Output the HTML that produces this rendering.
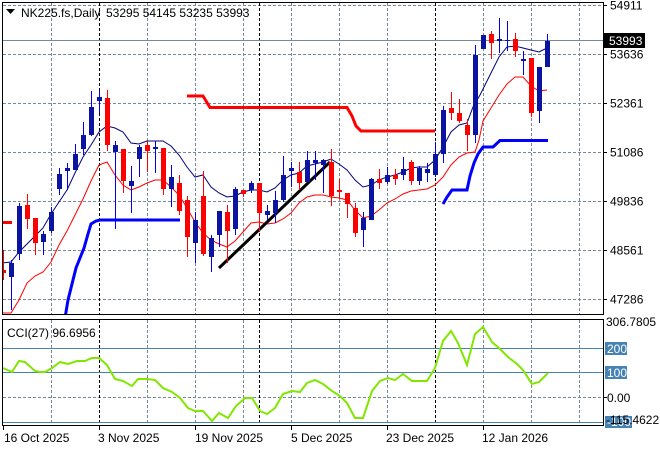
<!DOCTYPE html>
<html><head><meta charset="utf-8"><style>
html,body{margin:0;padding:0;background:#fff;}
svg{display:block;}
text{font-family:"Liberation Sans",sans-serif;font-size:12px;}
</style></head><body>
<svg width="660" height="450" viewBox="0 0 660 450" xmlns="http://www.w3.org/2000/svg">
<rect width="660" height="450" fill="#fff"/>
<g stroke="#778899" stroke-width="1" stroke-dasharray="3,2" fill="none">
<path d="M3 5.5H603M3 54.5H603M3 103.5H603M3 152.5H603M3 201.5H603M3 250.5H603M3 299.5H603M3 397.5H603"/>
<path d="M51.5 3V314M147.5 3V314M195.5 3V314M243.5 3V314M291.5 3V314M339.5 3V314M387.5 3V314M483.5 3V314M531.5 3V314M579.5 3V314"/>
<path d="M51.5 320V425M147.5 320V425M195.5 320V425M243.5 320V425M291.5 320V425M339.5 320V425M387.5 320V425M483.5 320V425M531.5 320V425M579.5 320V425"/>
</g>
<path d="M99.5 3V314M259.5 3V314M435.5 3V314M99.5 320V425M259.5 320V425M435.5 320V425" stroke="#000" stroke-width="1" stroke-dasharray="3,2" fill="none"/>
<line x1="3" y1="40.5" x2="603" y2="40.5" stroke="#778899" stroke-width="1"/>
<polyline fill="none" stroke="#ff0000" stroke-width="1" points="2,313 11,313 19,300 27,283 35,276 43,272 51,262 59,245 67,231 75,215 83,199 91,181 99,165 107,162 115,175 123,185 131,190 139,187 147,183 155,180 163,180 171,187 179,195 187,208 195,222 203,233 211,240 219,244 227,247 235,241 243,232 251,223 259,222 267,224 275,223 283,219 291,213 299,203 307,197 315,195 323,195 331,197 339,198 347,200 355,210 363,218 371,216 379,210 387,203 395,199 403,194 411,191 419,190 427,189 435,185 443,177 451,165 459,157 467,153 475,152 479,140 483,121 491,108 499,95 507,84 515,77 523,77 531,86 539,91 547,90"/>
<polyline fill="none" stroke="#000080" stroke-width="1" points="2,263 11,262 19,252 27,244 35,236 43,228 51,214 59,202 67,190 75,173 83,157 91,145 99,132 107,126 115,128 123,132 131,143 139,144 147,141 155,141 163,141 171,146 179,155 187,167 195,177 203,175 211,187 219,193 227,197 235,196 243,192 251,190 259,190 267,192 275,188 283,180 291,175 299,173 307,166 315,164 323,162 331,159 339,164 347,170 355,180 363,187 371,185 379,180 387,177 395,175 403,172 411,168 419,167 427,167 435,160 443,147 451,132 459,125 467,123 473,107 480,95 490,75 499,57 507,47 515,46 523,48 531,50 539,52 547,48"/>
<polyline fill="none" stroke="#ff0000" stroke-width="3" points="3,222.5 12,222.5"/>
<polyline fill="none" stroke="#ff0000" stroke-width="3" points="187,96 203,96 210,107.5 347,107.5 352,116 356,126 361,131 435,131"/>
<polyline fill="none" stroke="#0000ff" stroke-width="3" points="65,318 68,300 72,284 76,268 80,258 84,248 88,234 91,224 96,221 100,220 180,220"/>
<polyline fill="none" stroke="#0000ff" stroke-width="3" points="443,204 447,197 452,190 467,190 470,176 474,163 478,154 483,147 493,147 500,140.5 548,140.5"/>
<line x1="219" y1="268" x2="330" y2="162" stroke="#000" stroke-width="3"/>
<path stroke="#ff0000" stroke-width="1" fill="none" d="M3.5 250v30M27.5 194v35M35.5 218v37M107.5 90v61M123.5 149v44M147.5 141v31M163.5 148v47M179.5 175v40M187.5 196v61M203.5 171v85M227.5 205v58M243.5 190v7M259.5 183v49M299.5 162v28M331.5 149v57M339.5 179v20M347.5 193v25M355.5 203v34M379.5 169v20M395.5 169v16M411.5 160v25M451.5 92v28M459.5 99v24M467.5 119v32M491.5 31v28M515.5 33v24M531.5 58v59"/>
<path fill="#ff0000" d="M1 270h5v3h-5zM25 205h5v14h-5zM33 218h5v25h-5zM105 98h5v47h-5zM121 149h5v32h-5zM145 145h5v6h-5zM161 148h5v41h-5zM177 183h5v28h-5zM185 200h5v37h-5zM201 196h5v58h-5zM225 212h5v19h-5zM241 190h5v4h-5zM257 183h5v30h-5zM297 172h5v11h-5zM329 162h5v34h-5zM337 190h5v2h-5zM345 193h5v11h-5zM353 208h5v25h-5zM377 179h5v4h-5zM393 175h5v4h-5zM409 162h5v19h-5zM449 108h5v5h-5zM457 113h5v8h-5zM465 125h5v10h-5zM489 34h5v9h-5zM513 39h5v12h-5zM529 58h5v55h-5z"/>
<path stroke="#0000ee" stroke-width="1" fill="none" d="M11.5 260v50M19.5 203v57M43.5 231v24M51.5 207v26M59.5 168v27M67.5 163v27M75.5 144v26M83.5 122v33M91.5 91v45M99.5 90v23M115.5 141v88M131.5 166v47M139.5 145v32M155.5 141v32M171.5 165v42M195.5 212v51M211.5 235v37M219.5 211v36M235.5 187v48M251.5 181v12M267.5 205v15M275.5 191v32M283.5 156v46M291.5 162v25M307.5 151v31M315.5 151v29M323.5 159v34M363.5 212v35M371.5 178v42M387.5 167v17M403.5 157v23M419.5 166v19M427.5 163v19M435.5 142v35M443.5 106v57M475.5 45v98M483.5 35v14M499.5 18v35M507.5 21v30M523.5 51v24M539.5 67v56M547.5 34v33"/>
<path fill="#0a14a0" d="M9 263h5v14h-5zM17 206h5v48h-5zM41 234h5v8h-5zM49 212h5v19h-5zM57 174h5v15h-5zM65 168h5v3h-5zM73 154h5v16h-5zM81 135h5v14h-5zM89 107h5v28h-5zM97 97h5v4h-5zM113 145h5v7h-5zM129 181h5v5h-5zM137 147h5v12h-5zM153 147h5v2h-5zM169 177h5v12h-5zM193 220h5v23h-5zM209 238h5v19h-5zM217 211h5v24h-5zM233 189h5v40h-5zM249 183h5v7h-5zM265 211h5v4h-5zM273 200h5v13h-5zM281 175h5v25h-5zM289 168h5v3h-5zM305 160h5v22h-5zM313 160h5v3h-5zM321 160h5v5h-5zM361 218h5v12h-5zM369 179h5v41h-5zM385 175h5v7h-5zM401 169h5v6h-5zM417 168h5v13h-5zM425 169h5v4h-5zM433 154h5v21h-5zM441 110h5v44h-5zM473 55h5v80h-5zM481 35h5v14h-5zM497 39h5v2h-5zM505 40h5v1h-5zM521 59h5v2h-5zM537 67h5v44h-5zM545 41h5v26h-5z"/>
<path d="M3 348.5H603M3 372.5H603M3 422.5H603" stroke="#4682b4" stroke-width="1"/>
<polyline fill="none" stroke="#80e800" stroke-width="2" points="3,368 12,372 19,361 25,362 35,371 40,372 45,372 52,368 60,362 68,364 77,361 85,361 92,358 99,358 107,365 115,379 123,381 132,386 138,379 147,379 155,380 163,388 172,392 180,398 188,408 195,411 203,411 212,421 219,413 228,418 236,406 245,398 252,398 260,411 267,414 275,408 283,394 292,391 300,392 307,383 315,380 323,384 332,391 340,396 347,403 355,418 363,418 372,391 380,381 388,378 395,380 403,374 412,381 420,381 427,381 435,368 443,341 451,331 458,343 467,365 475,334 483,327 492,342 500,349 508,357 517,364 523,370 532,384 539,382 548,373"/>
<rect x="0" y="315" width="604" height="4" fill="#fff"/>
<rect x="0" y="0" width="2" height="430" fill="#fff"/>
<rect x="2.5" y="2.5" width="601" height="312" fill="none" stroke="#000" stroke-width="1"/>
<rect x="2.5" y="319.5" width="601" height="106" fill="none" stroke="#000" stroke-width="1"/>
<path d="M603 5.5H607M603 54.5H607M603 103.5H607M603 152.5H607M603 201.5H607M603 250.5H607M603 299.5H607M603 397.5H607M3.5 426V430M99.5 426V430M195.5 426V430M291.5 426V430M387.5 426V430M483.5 426V430" stroke="#000" stroke-width="1"/>
<text x="610" y="9.5">54911</text>
<text x="610" y="58.5">53636</text>
<text x="610" y="107.5">52361</text>
<text x="610" y="156.5">51086</text>
<text x="610" y="205.5">49836</text>
<text x="610" y="254.5">48561</text>
<text x="610" y="303.5">47286</text>
<rect x="604" y="33" width="41" height="15" fill="#000"/>
<text x="609" y="45" fill="#fff">53993</text>
<text x="606" y="326">306.7805</text>
<rect x="605" y="342" width="22" height="13" fill="#4682b4"/>
<text x="607" y="353" fill="#fff">200</text>
<rect x="605" y="366" width="22" height="13" fill="#4682b4"/>
<text x="607" y="377" fill="#fff">100</text>
<text x="607" y="402">0.00</text>
<rect x="605" y="416" width="27" height="12" fill="#4682b4"/>
<text x="607" y="426" fill="#fff">-100</text>
<text x="606" y="424">-115.4622</text>
<text x="4" y="442">16 Oct 2025</text>
<text x="98" y="442">3 Nov 2025</text>
<text x="195" y="442">19 Nov 2025</text>
<text x="291" y="442">5 Dec 2025</text>
<text x="386" y="442">23 Dec 2025</text>
<text x="482" y="442">12 Jan 2026</text>
<polygon points="6,9 15,9 10.5,14" fill="#000"/>
<text x="21" y="17">NK225.fs,Daily</text>
<text x="106" y="17">53295 54145 53235 53993</text>
<text x="7" y="337">CCI(27) 96.6956</text>
</svg>
</body></html>
